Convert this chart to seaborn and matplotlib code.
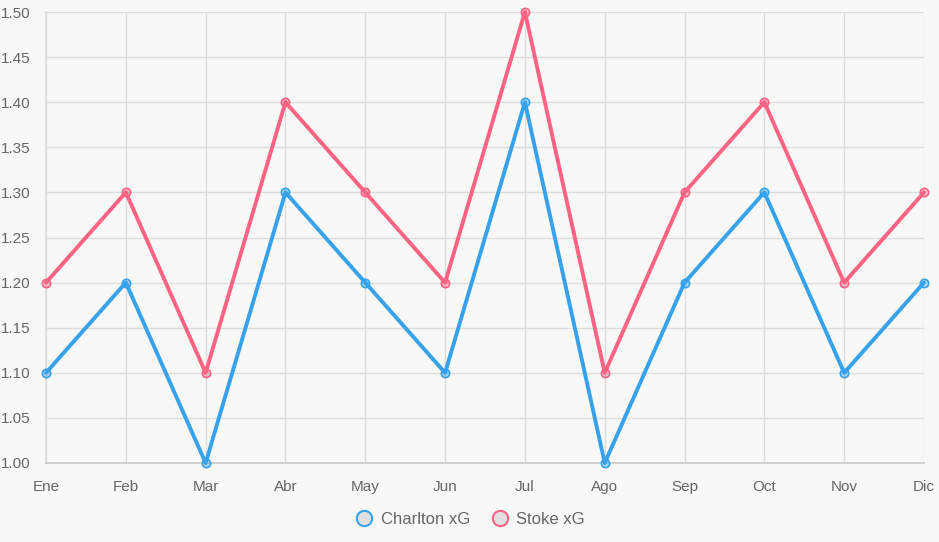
import matplotlib
matplotlib.use("Agg")
import matplotlib.pyplot as plt
import seaborn as sns
import pandas as pd
from matplotlib.lines import Line2D

months = ["Ene", "Feb", "Mar", "Abr", "May", "Jun", "Jul", "Ago", "Sep", "Oct", "Nov", "Dic"]
charlton = [1.1, 1.2, 1.0, 1.3, 1.2, 1.1, 1.4, 1.0, 1.2, 1.3, 1.1, 1.2]
stoke = [1.2, 1.3, 1.1, 1.4, 1.3, 1.2, 1.5, 1.1, 1.3, 1.4, 1.2, 1.3]
y_ticks = [1.00, 1.05, 1.10, 1.15, 1.20, 1.25, 1.30, 1.35, 1.40, 1.45, 1.50]

blue = "#36a2eb"
pink = "#ff6384"
bg = "#f8f8f6"
grid = "#dddddd"
txt = "#666666"

sns.set_theme(style="white")
plt.rcParams['font.family'] = ['Liberation Sans', 'DejaVu Sans']

df = pd.DataFrame({
    "x": list(range(len(months))) * 2,
    "val": charlton + stoke,
    "series": ["Charlton xG"] * len(months) + ["Stoke xG"] * len(months),
})

fig = plt.figure(figsize=(9.39, 5.42), dpi=100, facecolor=bg)
ax = fig.add_axes([46 / 939, 1 - 463 / 542, (924 - 46) / 939, (463 - 12) / 542])
ax.set_facecolor(bg)

sns.lineplot(data=df, x="x", y="val", hue="series", palette=[blue, pink],
             linewidth=2.8, legend=False, ax=ax, zorder=3)
for ln in ax.get_lines():
    ln.set_clip_on(False)
for vals, c in [(charlton, blue), (stoke, pink)]:
    ax.plot(range(len(months)), vals, linestyle="none", marker="o", markersize=6,
            markerfacecolor=c + "66", markeredgecolor=c, markeredgewidth=1.2,
            zorder=4, clip_on=False)

ax.set_xlim(0, len(months) - 1)
ax.set_ylim(1.0, 1.5)
ax.set_xticks(range(len(months)))
ax.set_xticklabels(months)
ax.set_yticks(y_ticks)
ax.set_yticklabels([f"{v:.2f}" for v in y_ticks])
ax.set_xlabel("")
ax.set_ylabel("")
ax.grid(True, color=grid, linewidth=1)
ax.set_axisbelow(True)
for s in ["top", "right"]:
    ax.spines[s].set_visible(False)
ax.spines["left"].set_color(grid)
ax.spines["bottom"].set_color("#cccccc")
ax.tick_params(axis="both", length=8, color=grid, labelcolor=txt, labelsize=11, pad=3)
ax.tick_params(axis="x", pad=4)

handles = [Line2D([], [], linestyle="none", marker="o", markersize=11,
                  markerfacecolor="#e0e0e0", markeredgecolor=c, markeredgewidth=1.5)
           for c in (blue, pink)]
leg = fig.legend(handles, ["Charlton xG", "Stoke xG"], loc="center", ncol=2,
                 bbox_to_anchor=(0.5, 1 - 519 / 542), frameon=False,
                 fontsize=12, handletextpad=0.4, columnspacing=1.2, handlelength=1.2)
for t in leg.get_texts():
    t.set_color(txt)

fig.savefig("out.png", dpi=100, facecolor=bg)
